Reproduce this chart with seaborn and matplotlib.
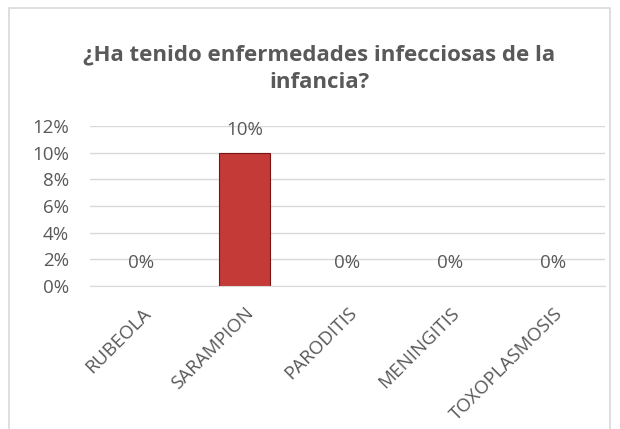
import matplotlib
matplotlib.use("Agg")
import matplotlib.pyplot as plt
import matplotlib.patches as mpatches
import seaborn as sns
import pandas as pd
from matplotlib.ticker import PercentFormatter

categorias = ['RUBEOLA', 'SARAMPION', 'PARODITIS', 'MENINGITIS', 'TOXOPLASMOSIS']
porcentajes = [0.0, 0.10, 0.0, 0.0, 0.0]
titulo = '¿Ha tenido enfermedades infecciosas de la\ninfancia?'

data_frame = pd.DataFrame({'enfermedad': categorias, 'porcentaje': porcentajes})

sns.set_style('white')
plt.rcParams['font.family'] = ['Open Sans', 'DejaVu Sans']
gris = '#595959'

fig = plt.figure(figsize=(6.2, 4.29), dpi=100)
fig.patches.append(mpatches.Rectangle((9 / 620, -0.05), 601 / 620, 1 - 8 / 429 + 0.05,
                                      transform=fig.transFigure, fill=False,
                                      edgecolor='#D9D9D9', linewidth=1.2))
ax = fig.add_axes([90 / 620, (429 - 286) / 429, 515 / 620, 160 / 429])

sns.barplot(data=data_frame, x='enfermedad', y='porcentaje', color='#C43A36',
            width=0.5, edgecolor='#7B1414', linewidth=0.8, saturation=1, ax=ax)
# las barras en cero no deben dejar borde visible
for barra in ax.patches:
    if barra.get_height() == 0:
        barra.set_linewidth(0)

ax.set_ylim(0, 0.12)
ax.set_yticks([0, 0.02, 0.04, 0.06, 0.08, 0.10, 0.12])
ax.yaxis.set_major_formatter(PercentFormatter(1.0, decimals=0))
ax.grid(axis='y', color='#D9D9D9', linewidth=1)
ax.set_axisbelow(True)
for s in ['top', 'right', 'left']:
    ax.spines[s].set_visible(False)
ax.spines['bottom'].set_color('#D9D9D9')
ax.tick_params(length=0, colors=gris)
ax.tick_params(axis='y', pad=15, labelsize=13.5)
ax.tick_params(axis='x', pad=13, labelsize=13.5)
ax.set_xlabel('')
ax.set_ylabel('')
plt.setp(ax.get_xticklabels(), rotation=45, ha='right', rotation_mode='anchor')

ax.bar_label(ax.containers[0], labels=[f'{v:.0%}' for v in porcentajes],
             padding=10, color=gris, fontsize=13.5)

fig.text(0.515, 0.84, titulo, ha='center', va='center', fontsize=16,
         fontweight='bold', color=gris, linespacing=1.45)

fig.savefig('out.png', dpi=100)
